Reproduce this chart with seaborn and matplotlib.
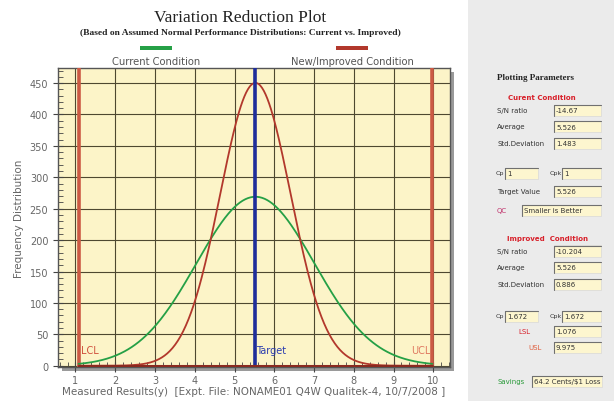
import numpy as np
import pandas as pd
import matplotlib
matplotlib.use("Agg")
import matplotlib.pyplot as plt
from matplotlib.patches import Rectangle
from matplotlib.ticker import MultipleLocator
import seaborn as sns

conditions = ["Current Condition", "New/Improved Condition"]
averages = [5.526, 5.526]
std_devs = [1.483, 0.886]
sample_size = 1000
lsl, usl, target = 1.076, 9.975, 5.526
curve_colors = ["#25a046", "#b2382c"]

x_ticks = [1, 2, 3, 4, 5, 6, 7, 8, 9, 10]
y_ticks = [0, 50, 100, 150, 200, 250, 300, 350, 400, 450]

current_rows = [("S/N ratio", "-14.67"), ("Average", "5.526"), ("Std.Deviation", "1.483")]
improved_rows = [("S/N ratio", "-10.204"), ("Average", "5.526"), ("Std.Deviation", "0.886")]

W, H = 614, 402


def fx(x):
    return x / W


def fy(y):
    return 1 - y / H


sns.set_style("white")
plt.rcParams["font.family"] = ["DejaVu Sans"]

fig = plt.figure(figsize=(W / 100, H / 100), dpi=100)
fig.patch.set_facecolor("white")

# panel gris a la derecha
fig.add_artist(Rectangle((fx(468), 0), 1 - fx(468), 1, transform=fig.transFigure,
                         facecolor="#ebebeb", edgecolor="none", zorder=-2))
# sombra del area del grafico
fig.add_artist(Rectangle((fx(62), fy(372)), fx(392), fy(73) - fy(372), transform=fig.transFigure,
                         facecolor="#9a9a9a", edgecolor="none", zorder=-1))

ax = fig.add_axes([fx(58), fy(368), fx(392), fy(69) - fy(368)])
ax.set_zorder(1)
ax.set_facecolor("#fcf4c8")

# curvas normales (N * pdf) con los parametros del panel
x = np.linspace(lsl, usl, 400)
frames = []
for name, m, s in zip(conditions, averages, std_devs):
    y = sample_size / (s * np.sqrt(2 * np.pi)) * np.exp(-0.5 * ((x - m) / s) ** 2)
    frames.append(pd.DataFrame({"x": x, "y": y, "cond": name}))
df = pd.concat(frames)

sns.lineplot(data=df, x="x", y="y", hue="cond", palette=curve_colors, linewidth=1.3,
             legend=False, ax=ax, zorder=4)

ax.axvline(lsl, color="#cc5a44", lw=2.6, zorder=3)
ax.axvline(usl, color="#cc5a44", lw=2.6, zorder=3)
ax.axvline(target, color="#1e2d9a", lw=2.6, zorder=5)
ax.plot([lsl, usl], [0, 0], color="#8a2a20", lw=2.2, zorder=6)

ax.text(lsl + 0.05, 25, "LCL", color="#d0503c", fontsize=7, va="center")
ax.text(target + 0.02, 25, "Target", color="#2a3cb0", fontsize=7, va="center")
ax.text(usl - 0.05, 25, "UCL", color="#e07860", fontsize=7, va="center", ha="right")

ax.set_xlim(0.56, 10.42)
ax.set_ylim(-2, 474)
ax.set_xticks(x_ticks)
ax.set_yticks(y_ticks)
ax.xaxis.set_minor_locator(MultipleLocator(0.2))
ax.yaxis.set_minor_locator(MultipleLocator(10))
ax.grid(True, which="major", color="#4e4830", lw=0.8)
ax.tick_params(which="both", bottom=True, left=True)
ax.tick_params(which="major", direction="inout", length=7, colors="#444444",
               labelcolor="#666666", labelsize=7, width=0.8)
ax.tick_params(which="minor", direction="in", length=3.5, colors="#444444", width=0.6)
ax.tick_params(axis="x", which="major", pad=2)
for sp in ax.spines.values():
    sp.set_color("#555555")
    sp.set_linewidth(1.0)

ax.set_xlabel("Measured Results(y)  [Expt. File: NONAME01 Q4W Qualitek-4, 10/7/2008 ]",
              color="#666666", fontsize=7.5, labelpad=1)
ax.set_ylabel("Frequency Distribution", color="#666666", fontsize=7.5, labelpad=4)

# titulos
fig.text(fx(240), fy(18), "Variation Reduction Plot", family="Liberation Serif",
         fontsize=12.5, ha="center", va="center", color="#222222")
fig.text(fx(240), fy(33), "(Based on Assumed Normal Performance Distributions: Current vs. Improved)",
         family="Liberation Serif", fontweight="bold", fontsize=6.8, ha="center", va="center",
         color="#222222")

# leyenda hecha a mano
for name, col, cx in zip(conditions, curve_colors, [156, 352]):
    fig.add_artist(Rectangle((fx(cx - 16), fy(51)), fx(32), fy(47) - fy(51),
                             transform=fig.transFigure, facecolor=col, edgecolor="none"))
    fig.text(fx(cx), fy(62), name, fontsize=7.2, color="#555555", ha="center", va="center")


def box(x0, y0, x1, y1, txt):
    fig.add_artist(Rectangle((fx(x0), fy(y1)), fx(x1 - x0), fy(y0) - fy(y1),
                             transform=fig.transFigure, facecolor="#fdf6cf",
                             edgecolor="#d8d8d8", lw=0.5))
    fig.add_artist(plt.Line2D([fx(x0), fx(x0), fx(x1)], [fy(y1), fy(y0), fy(y0)],
                              transform=fig.transFigure, color="#707070", lw=0.8))
    fig.text(fx(x0 + 2), fy((y0 + y1) / 2), txt, fontsize=5, color="#333333", va="center")


def label(xp, yp, txt, color="#333333", size=5, **kw):
    fig.text(fx(xp), fy(yp), txt, fontsize=size, color=color, va="center", **kw)


fig.text(fx(497), fy(78), "Plotting Parameters", family="Liberation Serif", fontweight="bold",
         fontsize=6.5, color="#222222", va="center")

label(508, 98, "Curent Condition", color="#d8202a", fontweight="bold")
for i, (lab, val) in enumerate(current_rows):
    yy = 111 + i * 16.5
    label(497, yy, lab)
    box(554, yy - 5.5, 601, yy + 5.5, val)
label(496, 174, "Cp", size=4.6)
box(505, 168.5, 538, 179.5, "1")
label(550, 174, "Cpk", size=4.6)
box(562, 168.5, 601, 179.5, "1")
label(497, 192, "Target Value")
box(554, 186.5, 601, 197.5, "5.526")
label(497, 211, "QC", color="#c0306a")
box(522, 205.5, 601, 216.5, "Smaller is Better")

label(507, 239, "Improved  Condition", color="#d8202a", fontweight="bold")
for i, (lab, val) in enumerate(improved_rows):
    yy = 252 + i * 16.5
    label(497, yy, lab)
    box(554, yy - 5.5, 601, yy + 5.5, val)
label(496, 317, "Cp", size=4.6)
box(505, 311.5, 538, 322.5, "1.672")
label(550, 317, "Cpk", size=4.6)
box(562, 311.5, 601, 322.5, "1.672")
label(518, 332, "LSL", color="#d8202a")
box(554, 326.5, 601, 337.5, "1.076")
label(528, 348, "USL", color="#e06040")
box(554, 342.5, 601, 353.5, "9.975")
label(497, 382, "Savings", color="#2a9a3a")
box(532, 376.5, 602, 387.5, "64.2 Cents/$1 Loss")

fig.savefig("out.png", dpi=100, facecolor=fig.get_facecolor())
